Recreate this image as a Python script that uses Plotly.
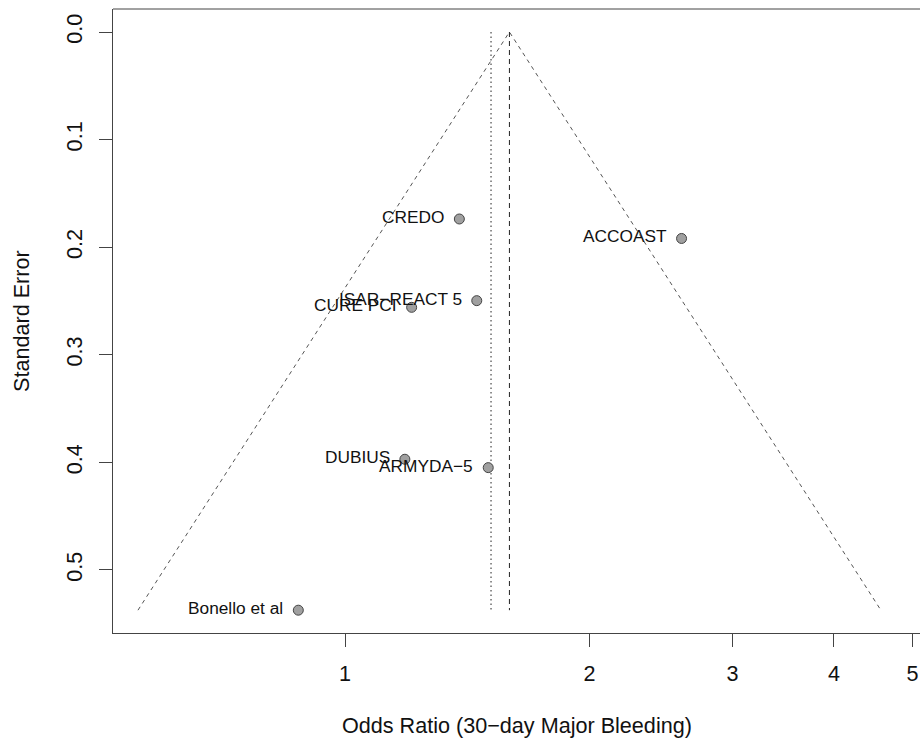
import numpy as np
import plotly.graph_objects as go

# ---- data ----
studies = ["CREDO", "ACCOAST", "ISAR\u2212REACT 5", "CURE PCI", "DUBIUS", "ARMYDA\u22125", "Bonello et al"]
odds_ratio = [1.383, 2.597, 1.453, 1.208, 1.185, 1.501, 0.876]
std_error = [0.1738, 0.1919, 0.2497, 0.2559, 0.3971, 0.4049, 0.5374]
pooled_or_dotted = 1.513
pooled_or_dashed = 1.594
x_ticks = [1, 2, 3, 4, 5]
y_ticks = [0.0, 0.1, 0.2, 0.3, 0.4, 0.5]
y_ticktext = ["0.0", "0.1", "0.2", "0.3", "0.4", "0.5"]

FONT = "Liberation Sans, Arial, sans-serif"
AX = 21.6
LAB = 17.3

se_max = max(std_error)
est = pooled_or_dashed
left_end = float(np.exp(np.log(est) - 1.96 * se_max))
right_end = float(np.exp(np.log(est) + 1.96 * se_max))

fig = go.Figure()

# funnel
fig.add_trace(go.Scatter(
    x=[left_end, est, right_end], y=[se_max, 0.0, se_max], mode="lines",
    line=dict(color="#555555", width=1, dash="4px,4px"), hoverinfo="skip", showlegend=False))
# vertical reference lines
fig.add_trace(go.Scatter(
    x=[pooled_or_dotted, pooled_or_dotted], y=[0.0, se_max], mode="lines",
    line=dict(color="#222222", width=1, dash="1.5px,3px"), hoverinfo="skip", showlegend=False))
fig.add_trace(go.Scatter(
    x=[pooled_or_dashed, pooled_or_dashed], y=[0.0, se_max], mode="lines",
    line=dict(color="#222222", width=1, dash="5px,4px"), hoverinfo="skip", showlegend=False))
# study points
fig.add_trace(go.Scatter(
    x=odds_ratio, y=std_error, mode="markers",
    marker=dict(size=10, color="#a0a0a0", line=dict(color="#444444", width=1)),
    showlegend=False))

annotations = []
for name, o, s in zip(studies, odds_ratio, std_error):
    annotations.append(dict(
        x=float(np.log10(o)), y=s, xref="x", yref="y", text=name, showarrow=False,
        xanchor="right", yanchor="middle", xshift=-13, yshift=2,
        font=dict(family=FONT, size=LAB, color="#111111")))

annotations.append(dict(
    x=0.5, y=-92 / 624, xref="paper", yref="paper", text="Odds Ratio (30\u2212day Major Bleeding)",
    showarrow=False, xanchor="center", yanchor="middle",
    font=dict(family=FONT, size=AX, color="#111111")))
annotations.append(dict(
    x=(21 - 113) / 807, y=0.5, xref="paper", yref="paper", text="Standard Error",
    showarrow=False, xanchor="center", yanchor="middle", textangle=-90,
    font=dict(family=FONT, size=AX, color="#111111")))

fig.update_layout(
    width=920, height=741,
    margin=dict(l=113, r=0, t=9, b=108, pad=0),
    plot_bgcolor="white", paper_bgcolor="white",
    showlegend=False,
    annotations=annotations,
    shapes=[dict(type="line", xref="paper", yref="paper", x0=0, x1=1, y0=1, y1=1,
                 line=dict(color="#444444", width=1))],
)
fig.update_xaxes(
    type="log", range=[-0.2857, 0.7081],
    tickvals=x_ticks, ticktext=[str(t) for t in x_ticks],
    showgrid=False, zeroline=False, showline=True, linecolor="#444444", linewidth=1,
    ticks="outside", ticklen=13, tickcolor="#444444", tickwidth=1,
    tickfont=dict(family=FONT, size=AX, color="#111111"), ticklabelstandoff=8)
fig.update_yaxes(
    range=[0.5586, -0.02138],
    tickvals=y_ticks, ticktext=y_ticktext, tickangle=-90,
    showgrid=False, zeroline=False, showline=True, linecolor="#444444", linewidth=1,
    ticks="outside", ticklen=13, tickcolor="#444444", tickwidth=1,
    tickfont=dict(family=FONT, size=AX, color="#111111"), ticklabelstandoff=8)

fig.write_html("out.html")
